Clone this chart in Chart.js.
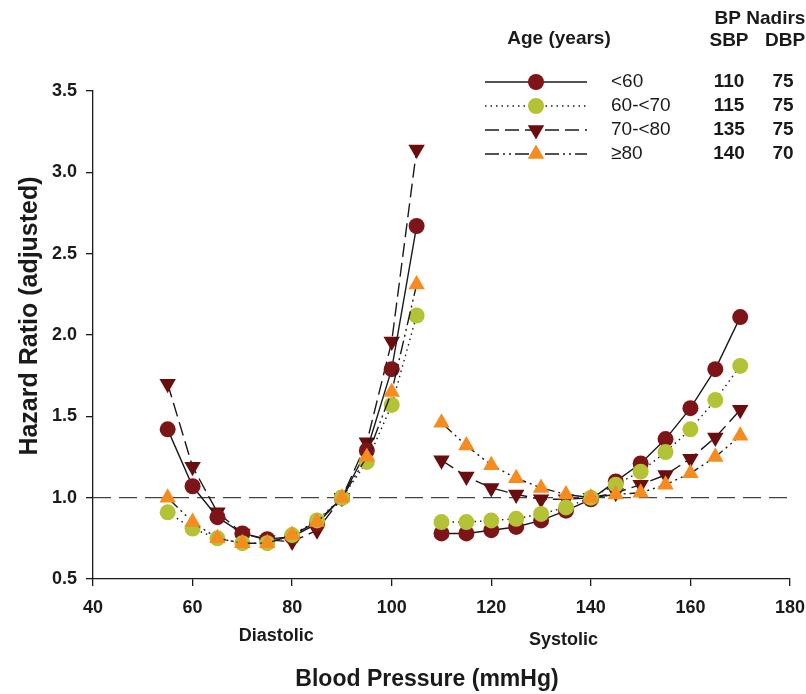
<!DOCTYPE html>
<html>
<head>
<meta charset="utf-8">
<script src="https://cdn.jsdelivr.net/npm/chart.js@4.4.1/dist/chart.umd.min.js"></script>
<style>
  html, body { margin: 0; padding: 0; background: #fff; }
  #wrap { width: 806px; height: 694px; }
</style>
</head>
<body>
<div id="wrap"><canvas id="chart" width="806" height="694"></canvas></div>
<script>
// Hazard ratio by diastolic / systolic BP, per age group
const diaBP = [55, 60, 65, 70, 75, 80, 85, 90, 95, 100, 105];
const sysBP = [110, 115, 120, 125, 130, 135, 140, 145, 150, 155, 160, 165, 170];

const groups = ['<60', '60-<70', '70-<80', '≥80'];
const diaHR = [
  [1.42, 1.07, 0.88, 0.78, 0.745, 0.76, 0.84, 1.0, 1.29, 1.79, 2.67],
  [0.91, 0.81, 0.75, 0.72, 0.72, 0.77, 0.86, 1.0, 1.22, 1.57, 2.12],
  [1.70, 1.19, 0.91, 0.78, 0.74, 0.73, 0.80, 1.0, 1.34, 1.96, 3.14],
  [1.00, 0.85, 0.75, 0.72, 0.72, 0.77, 0.85, 1.0, 1.25, 1.65, 2.31]
];
const sysHR = [
  [0.78, 0.78, 0.80, 0.82, 0.86, 0.92, 0.99, 1.10, 1.21, 1.36, 1.55, 1.79, 2.11],
  [0.85, 0.85, 0.86, 0.87, 0.90, 0.94, 1.00, 1.08, 1.16, 1.28, 1.42, 1.60, 1.81],
  [1.23, 1.13, 1.06, 1.02, 0.99, 0.99, 1.00, 1.03, 1.08, 1.14, 1.24, 1.37, 1.54],
  [1.46, 1.32, 1.20, 1.12, 1.06, 1.02, 1.00, 1.02, 1.03, 1.08, 1.15, 1.25, 1.38]
];
const sbpNadir = ['110', '115', '135', '140'];
const dbpNadir = ['75', '75', '75', '70'];

const refX = [40, 180];
const refY = [1, 1];

const xTicks = [40, 60, 80, 100, 120, 140, 160, 180];
const yTicks = [0.5, 1.0, 1.5, 2.0, 2.5, 3.0, 3.5];

const FONT = '"Liberation Sans", Arial, sans-serif';
const INK = '#1a1a1a';
const styles = [
  { color: '#7d1418', pt: 'circle', rot: 0, r: 8, dash: [], order: 2 },
  { color: '#b4c236', pt: 'circle', rot: 0, r: 8, dash: [1.5, 4], order: 1 },
  { color: '#6a0d0e', pt: 'triangle', rot: 180, r: 9.5, dash: [14, 6], order: 3 },
  { color: '#f68b1f', pt: 'triangle', rot: 0, r: 9.5, dash: [14, 4, 2, 4, 2, 4], order: 0 }
];

const pts = (xs, ys) => xs.map((x, i) => ({ x, y: ys[i] }));

const datasets = [{
  data: pts(refX, refY), borderColor: '#444', borderWidth: 1.3, borderDash: [18, 8],
  pointRadius: 0, order: 10
}];
groups.forEach((g, i) => {
  const s = styles[i];
  [pts(diaBP, diaHR[i]), pts(sysBP, sysHR[i])].forEach((data) => {
    datasets.push({
      label: g, data, borderColor: INK, borderWidth: 1.4, borderDash: s.dash,
      pointStyle: s.pt, rotation: s.rot, pointRadius: s.r,
      pointBackgroundColor: s.color, pointBorderColor: s.color, pointBorderWidth: 0,
      tension: 0, order: s.order
    });
  });
});

const extras = {
  id: 'extras',
  afterDraw(chart) {
    const { ctx, scales: { x } } = chart;
    ctx.save();
    ctx.fillStyle = INK;
    ctx.textAlign = 'center';
    ctx.textBaseline = 'middle';

    // axis titles
    ctx.font = 'bold 23px ' + FONT;
    ctx.fillText('Blood Pressure (mmHg)', 427, 680);
    ctx.save();
    ctx.translate(30, 316);
    ctx.rotate(-Math.PI / 2);
    ctx.font = 'bold 25px ' + FONT;
    ctx.fillText('Hazard Ratio (adjusted)', 0, 0);
    ctx.restore();

    ctx.font = 'bold 18px ' + FONT;
    ctx.fillText('Diastolic', x.getPixelForValue(76.8), 636);
    ctx.fillText('Systolic', x.getPixelForValue(134.5), 640);

    // legend
    ctx.font = 'bold 19px ' + FONT;
    ctx.fillText('Age (years)', 559, 39);
    ctx.fillText('BP Nadirs', 760, 19);
    ctx.fillText('SBP', 729, 41);
    ctx.fillText('DBP', 785, 41);

    const rowY = [82, 106, 130, 154];
    groups.forEach((g, i) => {
      const s = styles[i], y = rowY[i];
      ctx.strokeStyle = INK;
      ctx.lineWidth = 1.4;
      ctx.setLineDash(s.dash);
      ctx.beginPath();
      ctx.moveTo(485, y);
      ctx.lineTo(587, y);
      ctx.stroke();
      ctx.setLineDash([]);
      ctx.fillStyle = s.color;
      Chart.helpers.drawPoint(ctx, { pointStyle: s.pt, rotation: s.rot, radius: s.r, borderWidth: 0 }, 536, y);

      ctx.fillStyle = INK;
      ctx.textAlign = 'left';
      ctx.font = '19px ' + FONT;
      ctx.fillText(g, 611, y);
      ctx.textAlign = 'center';
      ctx.font = 'bold 19px ' + FONT;
      ctx.fillText(sbpNadir[i], 729, y);
      ctx.fillText(dbpNadir[i], 783, y);
    });
    ctx.restore();
  }
};

new Chart(document.getElementById('chart'), {
  type: 'line',
  data: { datasets },
  plugins: [extras],
  options: {
    responsive: false, animation: false,
    layout: { padding: { top: 91, right: 0, left: 0, bottom: 0 } },
    plugins: { legend: { display: false }, tooltip: { enabled: false } },
    scales: {
      x: {
        type: 'linear', min: 40, max: 180,
        afterFit: (s) => { s.height = 115; s.paddingRight = 16; },
        afterBuildTicks: (s) => { s.ticks = xTicks.map((v) => ({ value: v })); },
        grid: { display: true, drawOnChartArea: false, drawTicks: true, tickLength: 7, color: INK, lineWidth: 1.3 },
        border: { display: true, color: INK, width: 1.3 },
        ticks: { color: INK, padding: 11, font: { family: FONT, size: 18, weight: 'bold' } }
      },
      y: {
        type: 'linear', min: 0.5, max: 3.5,
        afterFit: (s) => { s.width = 93; },
        afterBuildTicks: (s) => { s.ticks = yTicks.map((v) => ({ value: v })); },
        grid: { display: true, drawOnChartArea: false, drawTicks: true, tickLength: 7, color: INK, lineWidth: 1.3 },
        border: { display: true, color: INK, width: 1.3 },
        ticks: { color: INK, padding: 9, callback: (v) => v.toFixed(1), font: { family: FONT, size: 18, weight: 'bold' } }
      }
    }
  }
});
</script>
</body>
</html>
